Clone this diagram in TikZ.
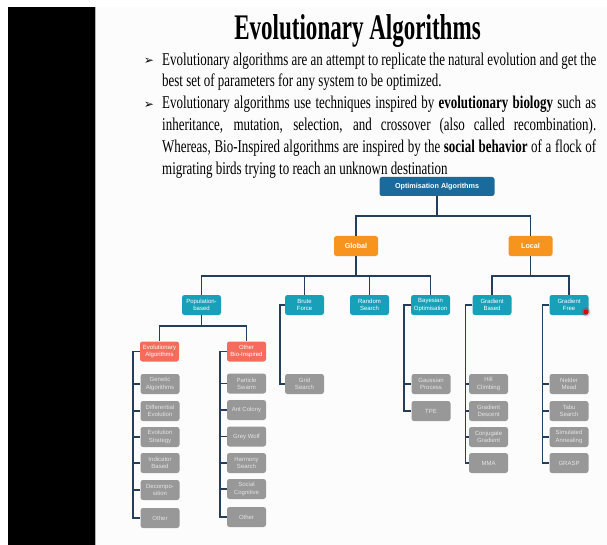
\documentclass[tikz,border=0pt]{standalone}
\usepackage{fontspec}
\usetikzlibrary{positioning}
\newfontfamily\titlefont[FakeStretch=0.64]{Liberation Serif}
\newfontfamily\slidefont[FakeStretch=0.72]{Liberation Serif}
\newfontfamily\boxfont{Liberation Sans}
\newfontfamily\symfont{DejaVu Sans}
\definecolor{rootblue}{RGB}{27,106,156}
\definecolor{scopeorange}{RGB}{247,148,30}
\definecolor{familyteal}{RGB}{24,160,184}
\definecolor{groupred}{RGB}{245,108,92}
\definecolor{methodgrey}{RGB}{152,152,152}
\definecolor{methodtext}{RGB}{228,228,228}
\definecolor{linkblue}{RGB}{36,62,92}
\definecolor{slidebg}{RGB}{252,252,252}

\begin{document}
\begin{tikzpicture}[x=1pt, y=-1pt,
                    box/.style={rounded corners=2.5pt, inner sep=0pt,
                                minimum width=39pt, minimum height=20pt,
                                align=center, text=white,
                                font=\boxfont\fontsize{6}{7.2}\selectfont},
                    root/.style={box, fill=rootblue, minimum width=115pt, minimum height=19pt,
                                 font=\boxfont\bfseries\fontsize{7.2}{8}\selectfont},
                    scopebox/.style={box, fill=scopeorange, minimum width=44pt,
                                     font=\boxfont\bfseries\fontsize{7.2}{8}\selectfont},
                    family/.style={box, fill=familyteal},
                    group/.style={box, fill=groupred},
                    method/.style={box, fill=methodgrey, text=methodtext},
                    link/.style={draw=linkblue, line width=1.6pt},
                    bullet/.style={anchor=base, inner sep=0pt, font=\symfont\fontsize{12}{14}\selectfont},
                    para/.style={anchor=north west, inner sep=0pt, text width=434pt, align=justify,
                                 font=\slidefont\fontsize{18}{21.7}\selectfont}]
	% slide and frame
	\useasboundingbox (0,0) rectangle (607,545);
	\fill[white] (0,0) rectangle (607,545);
	\fill[slidebg] (95,7) rectangle (607,545);
	\fill[black] (8,7) rectangle (95,545);
	\draw[gray!60, line width=0.6pt] (95.3,7) -- (95.3,545);

	% heading and text
	\node[anchor=base, inner sep=0pt, font=\titlefont\bfseries\fontsize{36}{40}\selectfont] (title) at (357.5, 40) {Evolutionary Algorithms};
	\node[para] (text1) at (162, 49.8) {\strut Evolutionary algorithms are an attempt to replicate the natural evolution and get the\linebreak best set of parameters for any system to be optimized.\strut};
	\node[para, anchor=north west] (text2) at (text1.south west) {\strut Evolutionary algorithms use techniques inspired by \textbf{evolutionary biology} such as\linebreak inheritance, mutation, selection, and crossover (also called recombination).\linebreak Whereas, Bio-Inspired algorithms are inspired by the \textbf{social behavior} of a flock of\linebreak migrating birds trying to reach an unknown destination\strut};
	\node[bullet] (b1) at (149, 65) {➢};
	\node[bullet] (b2) at (149, 108.4) {➢};

	% tree
	\node[root] (opt) at (437, 186.5) {Optimisation Algorithms};
	\node[scopebox] (glob) at (356, 246) {Global};
	\node[scopebox] (loc) at (530.5, 246) {Local};

	\node[family] (pop) at (201.5, 305) {Population-\\based};
	\node[family] (brute) at (304.5, 305) {Brute\\Force};
	\node[family] (rand) at (369.5, 305) {Random\\Search};
	\node[family] (bayes) at (430.5, 305) {Bayesian\\Optimisation};
	\node[family] (gbased) at (492, 305) {Gradient\\Based};
	\node[family] (gfree) at (569, 305) {Gradient\\Free};

	\node[group] (evo) at (159.5, 351.5) {Evolutionary\\Algorithms};
	\node[group] (bio) at (246.5, 351.5) {Other\\Bio-Inspired};

	\node[method] (ga) at (160, 384) {Genetic\\Algorithms};
	\node[method] (de) at (160, 411) {Differential\\Evolution};
	\node[method] (es) at (160, 437) {Evolution\\Strategy};
	\node[method] (ib) at (160, 463) {Indicator\\Based};
	\node[method] (dec) at (160, 490) {Decompo-\\sition};
	\node[method] (oth1) at (160, 518) {Other};

	\node[method] (ps) at (246.5, 383.5) {Particle\\Swarm};
	\node[method] (ac) at (246.5, 410) {Ant Colony};
	\node[method] (gw) at (246.5, 436.5) {Grey Wolf};
	\node[method] (hs) at (246.5, 463) {Harmony\\Search};
	\node[method] (sc) at (246.5, 489) {Social\\Cognitive};
	\node[method] (oth2) at (246.5, 517) {Other};

	\node[method] (grid) at (304.5, 384) {Grid\\Search};

	\node[method] (gp) at (431, 384) {Gaussian\\Process};
	\node[method] (tpe) at (431, 411) {TPE};

	\node[method] (hill) at (488.5, 384) {Hill\\Climbing};
	\node[method] (gd) at (488.5, 411) {Gradient\\Descent};
	\node[method] (cg) at (488.5, 437) {Conjugate\\Gradient};
	\node[method] (mma) at (488.5, 463) {MMA};

	\node[method] (nm) at (569, 384) {Nelder\\Mead};
	\node[method] (tabu) at (569, 411) {Tabu\\Search};
	\node[method] (sa) at (569, 437) {Simulated\\Annealing};
	\node[method] (grasp) at (569, 463) {GRASP};

	% pointer dot
	\fill[red, opacity=0.25] (586, 312) circle (4.5pt);
	\node[circle, fill=red!90!black, inner sep=0pt, minimum size=5pt] (dot) at (586, 312) {};

	% connectors
	\draw[link] (opt.south) -- ++(0,20) -| (glob.north);
	\draw[link] (opt.south) -- ++(0,20) -| (loc.north);
	\draw[link] (glob.south) -- ++(0,20) -| (pop.north);
	\draw[link] (glob.south) -- ++(0,20) -| (brute.north);
	\draw[link] (glob.south) -- ++(0,20) -| (rand.north);
	\draw[link] (glob.south) -- ++(0,20) -| (bayes.north);
	\draw[link] (loc.south) -- ++(0,20) -| (gbased.north);
	\draw[link] (loc.south) -- ++(0,20) -| (gfree.north);
	\draw[link] (pop.south) -- ++(0,11) -| (evo.north);
	\draw[link] (pop.south) -- ++(0,11) -| (bio.north);

	\foreach \kid in {ga, de, es, ib, dec, oth1}
		\draw[link] (evo.west) -- ++(-7,0) |- (\kid.west);
	\foreach \kid in {ps, ac, gw, hs, sc, oth2}
		\draw[link] (bio.west) -- ++(-7,0) |- (\kid.west);
	\draw[link] (brute.west) -- ++(-5,0) |- (grid.west);
	\foreach \kid in {gp, tpe}
		\draw[link] (bayes.west) -- ++(-7,0) |- (\kid.west);
	\foreach \kid in {hill, gd, cg, mma}
		\draw[link] (gbased.west) -- ++(-7,0) |- (\kid.west);
	\foreach \kid in {nm, tabu, sa, grasp}
		\draw[link] (gfree.west) -- ++(-7,0) |- (\kid.west);
\end{tikzpicture}
\end{document}
